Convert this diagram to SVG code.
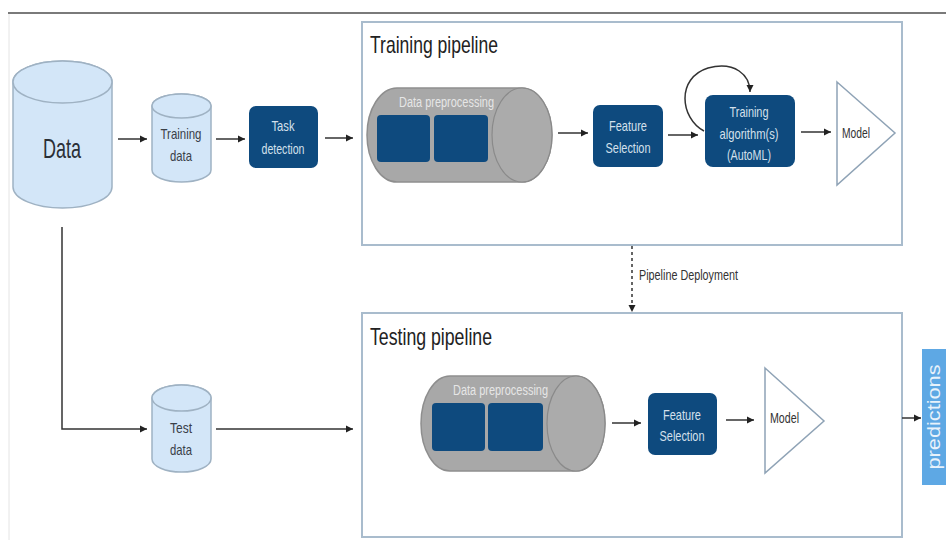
<svg xmlns="http://www.w3.org/2000/svg" width="946" height="540" viewBox="0 0 946 540">
<defs>
<marker id="ah" markerWidth="8" markerHeight="8" refX="7" refY="4" orient="auto" markerUnits="userSpaceOnUse">
<path d="M0,0.5 L7,4 L0,7.5 Z" fill="#222"/>
</marker>
<style>
.t{font-family:"Liberation Sans",Arial,sans-serif;}
.bx{fill:#0e4a7e;}
.bt{fill:#d4e0ec;font-size:15px;text-anchor:middle;}
.cyl{fill:#d3e6f8;stroke:#9fb2c3;stroke-width:1.5;}
.ct{fill:#3a4048;font-size:15px;text-anchor:middle;}
.frame{fill:#fff;stroke:#a9bccd;stroke-width:2;}
.ft{fill:#222;font-size:24px;}
.gc{fill:#a8a8a8;stroke:#8e8e8e;stroke-width:1.5;}
.gcap{fill:#ababab;stroke:#8a8a8a;stroke-width:1.2;}
.gt{fill:#e6e6e6;font-size:14px;}
.tri{fill:#fff;stroke:#8fa3b6;stroke-width:1.5;}
.mt{fill:#333;font-size:14px;}
.ln{stroke:#333;stroke-width:1.5;fill:none;}
</style>
</defs>
<rect width="946" height="540" fill="#fff"/>
<line x1="8" y1="13" x2="946" y2="13" stroke="#7a7a7a" stroke-width="2"/>
<line x1="9" y1="14" x2="9" y2="540" stroke="#e4e4e4" stroke-width="1"/>

<g id="training-frame">
<rect class="frame" x="362" y="22" width="540" height="223"/>
<text class="t ft" x="370" y="53" textLength="128" lengthAdjust="spacingAndGlyphs">Training pipeline</text>
</g>
<g id="testing-frame">
<rect class="frame" x="362" y="313" width="540" height="224"/>
<text class="t ft" x="370" y="345" textLength="122" lengthAdjust="spacingAndGlyphs">Testing pipeline</text>
</g>

<g id="connectors">
<line class="ln" x1="118" y1="139" x2="147" y2="139" marker-end="url(#ah)"/>
<line class="ln" x1="216" y1="139" x2="245" y2="139" marker-end="url(#ah)"/>
<line class="ln" x1="325" y1="138" x2="353" y2="138" marker-end="url(#ah)"/>
<line class="ln" x1="558" y1="133" x2="588" y2="133" marker-end="url(#ah)"/>
<line class="ln" x1="668" y1="135" x2="698" y2="135" marker-end="url(#ah)"/>
<path class="ln" stroke="#666" d="M704,131 C680,118 676,78 708,68 C735,61 750,75 750,92" marker-end="url(#ah)"/>
<line class="ln" x1="801" y1="132" x2="831" y2="132" marker-end="url(#ah)"/>
<line class="ln" x1="632" y1="246" x2="632" y2="312" stroke-dasharray="3,3" marker-end="url(#ah)"/>
<text class="t" x="639" y="280" font-size="14" fill="#333" textLength="99" lengthAdjust="spacingAndGlyphs">Pipeline Deployment</text>
<path class="ln" d="M62,227 L62,429 L147,429" marker-end="url(#ah)"/>
<line class="ln" x1="216" y1="429" x2="353" y2="429" marker-end="url(#ah)"/>
<line class="ln" x1="612" y1="423" x2="641" y2="423" marker-end="url(#ah)"/>
<line class="ln" x1="726" y1="420" x2="754" y2="420" marker-end="url(#ah)"/>
<line class="ln" x1="902" y1="418" x2="921" y2="418" marker-end="url(#ah)"/>
</g>

<g id="data">
<path class="cyl" d="M13,82 L13,187 A49.5,21 0 0 0 112,187 L112,82 A49.5,21 0 0 0 13,82 Z"/>
<ellipse class="cyl" cx="62.5" cy="82" rx="49.5" ry="21"/>
<text class="t" x="62" y="158" font-size="28" fill="#2a2f36" text-anchor="middle" textLength="38" lengthAdjust="spacingAndGlyphs">Data</text>
</g>

<g id="training-data">
<path class="cyl" d="M152,106 L152,170 A29.5,12 0 0 0 211,170 L211,106 A29.5,12 0 0 0 152,106 Z"/>
<ellipse class="cyl" cx="181.5" cy="106" rx="29.5" ry="12"/>
<text class="t ct" x="181" y="139" textLength="41" lengthAdjust="spacingAndGlyphs">Training</text>
<text class="t ct" x="181" y="161" textLength="22" lengthAdjust="spacingAndGlyphs">data</text>
</g>

<g id="task-detection">
<rect class="bx" x="249" y="106" width="69" height="62" rx="7"/>
<text class="t bt" x="283" y="131" textLength="23" lengthAdjust="spacingAndGlyphs">Task</text>
<text class="t bt" x="283" y="154" textLength="43" lengthAdjust="spacingAndGlyphs">detection</text>
</g>

<g id="data-preprocessing-train">
<path class="gc" d="M397,88 L522,88 A30,47 0 0 1 522,182 L397,182 A30,47 0 0 1 397,88 Z"/>
<ellipse class="gcap" cx="522" cy="135" rx="30" ry="47"/>
<text class="t gt" x="399" y="107" textLength="95" lengthAdjust="spacingAndGlyphs">Data preprocessing</text>
<rect class="bx" x="377" y="115" width="53" height="47" rx="4"/>
<rect class="bx" x="434" y="115" width="54" height="47" rx="4"/>
</g>

<g id="feature-selection-train">
<rect class="bx" x="593" y="105" width="70" height="62" rx="7"/>
<text class="t bt" x="628" y="131" textLength="38" lengthAdjust="spacingAndGlyphs">Feature</text>
<text class="t bt" x="628" y="153" textLength="45" lengthAdjust="spacingAndGlyphs">Selection</text>
</g>

<g id="training-algorithm">
<rect class="bx" x="705" y="95" width="90" height="72" rx="8"/>
<text class="t bt" x="749" y="117" textLength="39" lengthAdjust="spacingAndGlyphs">Training</text>
<text class="t bt" x="749" y="139" textLength="59" lengthAdjust="spacingAndGlyphs">algorithm(s)</text>
<text class="t bt" x="749" y="160" textLength="44" lengthAdjust="spacingAndGlyphs">(AutoML)</text>
</g>

<g id="model-train">
<path class="tri" d="M837,82 L895,133 L837,185 Z"/>
<text class="t mt" x="842" y="138" textLength="28" lengthAdjust="spacingAndGlyphs">Model</text>
</g>

<g id="test-data">
<path class="cyl" d="M152,398 L152,459 A29.5,13 0 0 0 211,459 L211,398 A29.5,13 0 0 0 152,398 Z"/>
<ellipse class="cyl" cx="181.5" cy="398" rx="29.5" ry="13"/>
<text class="t ct" x="181" y="433" textLength="22" lengthAdjust="spacingAndGlyphs">Test</text>
<text class="t ct" x="181" y="455" textLength="22" lengthAdjust="spacingAndGlyphs">data</text>
</g>

<g id="data-preprocessing-test">
<path class="gc" d="M450,376 L576,376 A29,47.5 0 0 1 576,471 L450,471 A29,47.5 0 0 1 450,376 Z"/>
<ellipse class="gcap" cx="576" cy="423.5" rx="29" ry="47.5"/>
<text class="t gt" x="453" y="395" textLength="95" lengthAdjust="spacingAndGlyphs">Data preprocessing</text>
<rect class="bx" x="432" y="403" width="53" height="48" rx="4"/>
<rect class="bx" x="488" y="403" width="55" height="48" rx="4"/>
</g>

<g id="feature-selection-test">
<rect class="bx" x="648" y="393" width="69" height="62" rx="7"/>
<text class="t bt" x="682" y="420" textLength="38" lengthAdjust="spacingAndGlyphs">Feature</text>
<text class="t bt" x="682" y="441" textLength="45" lengthAdjust="spacingAndGlyphs">Selection</text>
</g>

<g id="model-test">
<path class="tri" d="M765,368 L824,421 L765,473 Z"/>
<text class="t mt" x="770" y="423" textLength="29" lengthAdjust="spacingAndGlyphs">Model</text>
</g>

<g id="predictions">
<rect x="922" y="349" width="30" height="136" fill="#5ea8e4"/>
<text class="t" transform="translate(940,417) rotate(-90)" x="0" y="0" font-size="18" fill="#e8f2fb" text-anchor="middle" textLength="105" lengthAdjust="spacingAndGlyphs">predictions</text>
</g>
</svg>
